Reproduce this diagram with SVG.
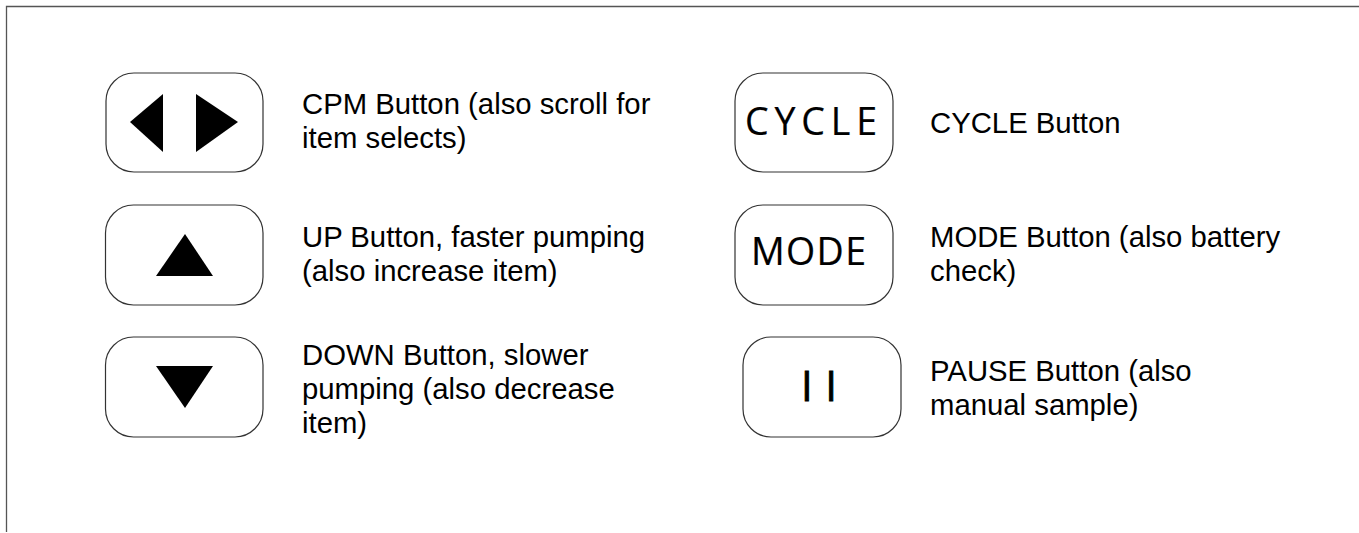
<svg xmlns="http://www.w3.org/2000/svg" width="1359" height="533" viewBox="0 0 1359 533">
<style>
.btn{fill:#fff;stroke:#333;stroke-width:1.2}
.glyph{fill:#000}
.lbl{font-family:"Liberation Sans",Arial,sans-serif;font-size:29.3px;fill:#000}
.key{font-family:"Open Sans","DejaVu Sans",sans-serif;font-size:37.5px;fill:#000}
</style>
<rect width="1359" height="533" fill="#fff"/>
<path d="M6.5,532 V6.5 H1359" fill="none" stroke="#555" stroke-width="1.3"/>
<g id="cpm">
<rect class="btn" x="106" y="73" width="157" height="99" rx="28" ry="28"/>
<polygon class="glyph" points="130,122 163,94 163,152"/>
<polygon class="glyph" points="196,94 238,122 196,152"/>
<text class="lbl" x="302" y="114">CPM Button (also scroll for</text>
<text class="lbl" x="302" y="148">item selects)</text>
</g>
<g id="up">
<rect class="btn" x="105.5" y="205" width="157.5" height="100" rx="28" ry="28"/>
<polygon class="glyph" points="185,234 213,276 156,276"/>
<text class="lbl" x="302" y="247">UP Button, faster pumping</text>
<text class="lbl" x="302" y="281">(also increase item)</text>
</g>
<g id="down">
<rect class="btn" x="105.5" y="337" width="157.5" height="100" rx="28" ry="28"/>
<polygon class="glyph" points="156,366 213,366 185,408"/>
<text class="lbl" x="302" y="365">DOWN Button, slower</text>
<text class="lbl" x="302" y="399">pumping (also decrease</text>
<text class="lbl" x="302" y="433">item)</text>
</g>
<g id="cycle">
<rect class="btn" x="735" y="73" width="158" height="99" rx="28" ry="28"/>
<text class="key" x="745" y="135" textLength="132" lengthAdjust="spacing" stroke="#000" stroke-width="0.2">CYCLE</text>
<text class="lbl" x="930" y="133">CYCLE Button</text>
</g>
<g id="mode">
<rect class="btn" x="735" y="205" width="158" height="100" rx="28" ry="28"/>
<text class="key" x="751" y="265" textLength="115" lengthAdjust="spacing" stroke="#000" stroke-width="0.2">MODE</text>
<text class="lbl" x="930" y="247">MODE Button (also battery</text>
<text class="lbl" x="930" y="281">check)</text>
</g>
<g id="pause">
<rect class="btn" x="743" y="337" width="158" height="100" rx="28" ry="28"/>
<text class="key" x="801" y="401" style="font-size:42px" stroke="#000" stroke-width="0.8" textLength="36" lengthAdjust="spacing">I I</text>
<text class="lbl" x="930" y="381">PAUSE Button (also</text>
<text class="lbl" x="930" y="415">manual sample)</text>
</g>
<g id="connectors"/>
</svg>
